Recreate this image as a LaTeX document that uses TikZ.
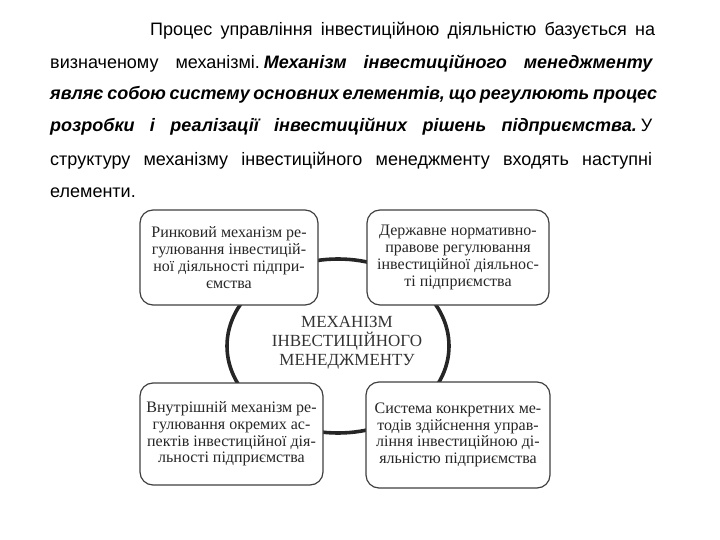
\documentclass[tikz,border=0pt]{standalone}
\usepackage{fontspec}
\usetikzlibrary{shapes.geometric}
\setmainfont{Liberation Serif}
\newfontfamily\parafont{Liberation Sans}
\begin{document}
\begin{tikzpicture}[x=1pt,y=-1pt,
  paraline/.style={anchor=base west,inner sep=0pt,font=\parafont\fontsize{18}{20}\selectfont},
  elembox/.style={draw=black!75,line width=1.2pt,rounded corners=13pt,fill=white,
    minimum width=#1,minimum height=95pt,inner sep=0pt,align=center,
    font=\fontsize{16}{16.8}\selectfont,text=black!85},
  elembox/.default=180pt,
  ring/.style={draw=black!85,line width=3.6pt},
  centertext/.style={align=center,inner sep=0pt,font=\fontsize{17}{19}\selectfont,text=black!80}]
\useasboundingbox (0,0) rectangle (720,540);
% paragraph
\node[paraline] (p1) at (150,36) {\makebox[505pt][s]{Процес управління інвестиційною діяльністю базується на}};
\node[paraline] (p2) at (50,69) {\makebox[603pt][s]{визначеному механізмі.\hspace{4pt}\textbf{\textit{Механізм інвестиційного менеджменту}}}};
\node[paraline] (p3) at (50,100) {\makebox[607pt][s]{\textbf{\textit{являє собою систему основних елементів, що регулюють процес}}}};
\node[paraline] (p4) at (50,132) {\makebox[602pt][s]{\textbf{\textit{розробки і реалізації інвестиційних рішень підприємства.}}\hspace{4pt}У}};
\node[paraline] (p5) at (50,166) {\makebox[602pt][s]{структуру механізму інвестиційного менеджменту входять наступні}};
\node[paraline] (p6) at (50,197) {елементи.};
% ring
\node[ring,ellipse,minimum width=222pt,minimum height=174pt] (ring) at (338,346) {};
\node[centertext] (center) at (347,343) {МЕХАНІЗМ\\ІНВЕСТИЦІЙНОГО\\МЕНЕДЖМЕНТУ};
% boxes
\node[elembox=178pt] (tl) at (229,257.5) {Ринковий механізм ре-\\гулювання інвестицій-\\ної діяльності підпри-\\ємства};
\node[elembox=182pt] (tr) at (458,257.5) {Державне нормативно-\\правове регулювання\\інвестиційної діяльнос-\\ті підприємства};
\node[elembox=183pt,minimum height=102pt] (bl) at (231.5,434) {Внутрішній механізм ре-\\гулювання окремих ас-\\пектів інвестиційної дія-\\льності підприємства};
\node[elembox=184pt,minimum height=106pt] (br) at (458,435) {Система конкретних ме-\\тодів здійснення управ-\\ління інвестиційною ді-\\яльністю підприємства};
\end{tikzpicture}
\end{document}
